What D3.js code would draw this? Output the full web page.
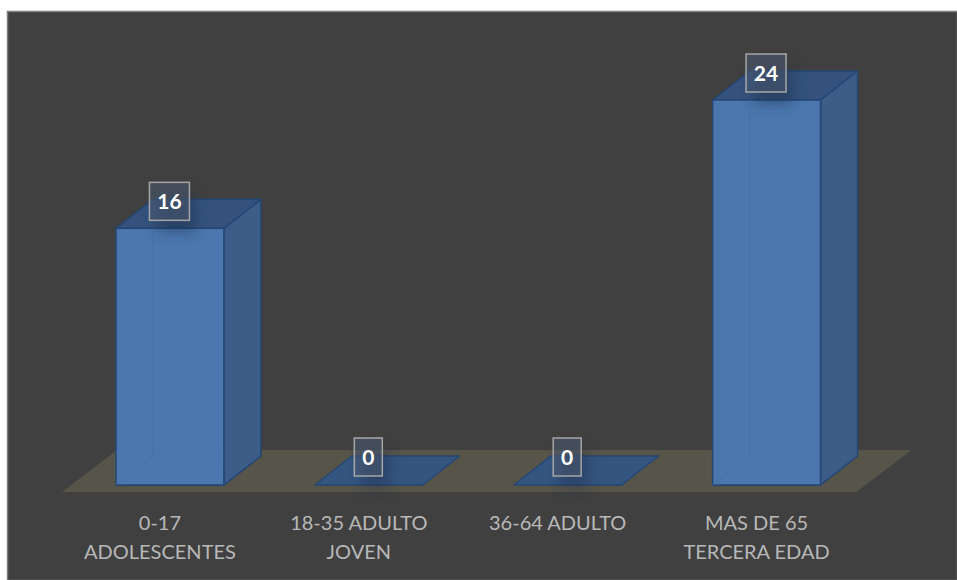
<!DOCTYPE html>
<html><head><meta charset="utf-8">
<script src="https://cdn.jsdelivr.net/npm/d3@7/dist/d3.min.js"></script>
<style>html,body{margin:0;padding:0;background:#fff}svg{display:block}</style>
</head><body><svg id="c" width="957" height="580"></svg>
<script>
const categories = ["0-17|ADOLESCENTES","18-35 ADULTO|JOVEN","36-64 ADULTO","MAS DE 65|TERCERA EDAD"];
const values = [16,0,0,24];
const W=957,H=580,depthX=37,depthY=29,baseY=485;
const svg=d3.select("#c");
const defs=svg.append("defs");
defs.append("filter").attr("id","glow").attr("x","-50%").attr("y","-50%").attr("width","200%").attr("height","200%")
  .append("feGaussianBlur").attr("stdDeviation",7);
svg.append("rect").attr("x",7.5).attr("y",11.5).attr("width",W-7).attr("height",H-11)
  .attr("fill","#404040").attr("stroke","#7f7f7f").attr("stroke-width",1.5);
const x=d3.scaleBand().domain(categories).range([70.5,866]).paddingInner(0.4575).paddingOuter(0.2288);
const y=d3.scaleLinear().domain([0,24]).range([baseY,100]);
const line=d3.line();
// floor
const fl=x(categories[0])-54, fr=x(categories[3])+x.bandwidth()+36;
svg.append("path").attr("d",line([[fl,492],[fr,492],[fr+55,450],[fl+55,450]])+"Z").attr("fill","#575449");
const g=svg.selectAll("g.bar").data(values).join("g").attr("class","bar")
  .attr("transform",(d,i)=>`translate(${x(categories[i])},0)`);
const bw=x.bandwidth();
const edge="#264673";
g.append("path").attr("d",d=>line([[0,baseY],[bw,baseY],[bw+depthX,baseY-depthY],[depthX,baseY-depthY]])+"Z")
  .attr("fill","#34557f").attr("stroke",edge).attr("stroke-width",1.5).attr("stroke-linejoin","round");
const b=g.filter(d=>d>0);
b.append("path").attr("d",d=>line([[bw,y(d)],[bw+depthX,y(d)-depthY],[bw+depthX,baseY-depthY],[bw,baseY]])+"Z")
  .attr("fill","#3c5d88").attr("stroke",edge).attr("stroke-width",1.5).attr("stroke-linejoin","round");
b.append("path").attr("d",d=>line([[0,y(d)],[depthX,y(d)-depthY],[bw+depthX,y(d)-depthY],[bw,y(d)]])+"Z")
  .attr("fill","#34527d").attr("stroke",edge).attr("stroke-width",1.5).attr("stroke-linejoin","round");
b.append("rect").attr("x",0).attr("y",d=>y(d)).attr("width",bw).attr("height",d=>baseY-y(d))
  .attr("fill","#4b77ae").attr("stroke",edge).attr("stroke-width",1.5);
b.append("path").attr("d",d=>line([[depthX,y(d)],[depthX,baseY-depthY],[bw,baseY-depthY]])+" "+line([[0,baseY],[depthX,baseY-depthY]]))
  .attr("fill","none").attr("stroke","#4672aa").attr("stroke-width",1);
// data labels
const lab=g.append("g").attr("transform",d=>`translate(${bw/2-0.5},${y(d)-(d>0?27:28)})`);
lab.append("rect").attr("x",d=>-(d>9?20:14)+8).attr("y",-6).attr("width",d=>(d>9?40:28)-8+6).attr("height",36)
  .attr("fill","#1e2f48").attr("opacity",0.5).attr("filter","url(#glow)");
lab.append("rect").attr("x",d=>-(d>9?20:14)).attr("y",-19).attr("width",d=>d>9?40:28).attr("height",38)
  .attr("fill","#4a5a70").attr("fill-opacity",0.55).attr("stroke","#a6a6a6").attr("stroke-width",1.5);
lab.append("text").attr("text-anchor","middle").attr("y",7.5)
  .attr("font-family","Lato").attr("font-weight",700).attr("font-size",21).attr("fill","#fff").text(d=>d);
// category labels
const cat=svg.selectAll("text.cat").data(categories).join("text").attr("class","cat")
  .attr("text-anchor","middle").attr("font-family","Lato").attr("font-size",20).attr("fill","#b8b8b8");
cat.each(function(c){
  const px=x(c)+bw/2-10;
  c.split("|").forEach((t,j)=>d3.select(this).append("tspan").attr("x",px).attr("y",530+j*29).text(t));
});
</script></body></html>
